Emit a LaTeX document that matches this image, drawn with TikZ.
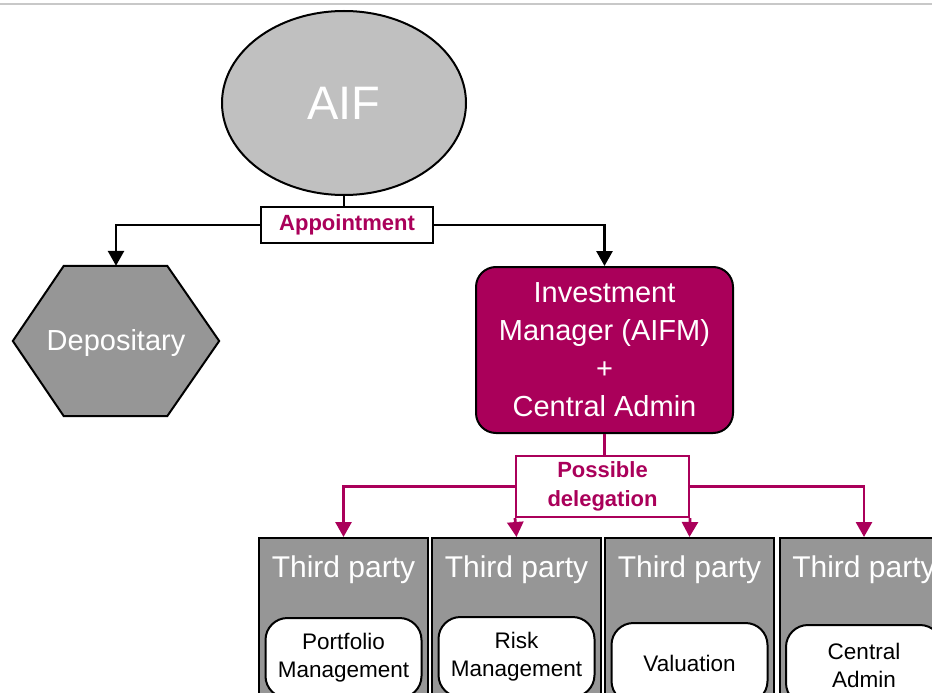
\documentclass[tikz,border=0pt]{standalone}
\usepackage{fontspec}
\setmainfont{Liberation Sans}
\usetikzlibrary{arrows.meta,calc,shapes.geometric}
\definecolor{berry}{HTML}{AA005A}
\definecolor{palegrey}{HTML}{C0C0C0}
\definecolor{midgrey}{HTML}{969696}
\definecolor{ruleline}{HTML}{C8C8C8}

\tikzset{
  link/.style={line width=2.8pt},
  tip/.style={-{Triangle[width=16pt,length=15pt]}},
  tag/.style={draw, line width=2pt, fill=white, inner sep=0pt, align=center,
    font=\bfseries\fontsize{22}{29}\selectfont},
  partybox/.style={draw, line width=2pt, fill=midgrey, anchor=north,
    minimum width=169pt, minimum height=200pt, inner sep=0pt},
  partytext/.style={text=white, font=\fontsize{30}{34}\selectfont, inner sep=0pt},
  taskbox/.style={draw, line width=2pt, fill=white, rounded corners=22pt,
    anchor=north, minimum width=156pt, minimum height=80pt, inner sep=0pt,
    align=center, font=\fontsize{22.5}{28}\selectfont},
}

\begin{document}
\begin{tikzpicture}[x=1pt,y=-1pt]
\useasboundingbox (0,0) rectangle (932,693);
\begin{scope}
\clip (0,0) rectangle (932,693);

% thin rule along the top edge
\draw[ruleline, line width=1.5pt] (0,4) -- (932,4);

% fund
\node[ellipse, draw, line width=2pt, fill=palegrey, minimum width=244pt,
  minimum height=184pt, inner sep=0pt, text=white,
  font=\fontsize{47}{50}\selectfont] (aif) at (344,103) {AIF};

% appointment label
\node[tag, text=berry, minimum width=172pt, minimum height=36pt] (appt) at (347,225) {Appointment};

% depositary (flattened hexagon)
\node[minimum width=206pt, minimum height=150pt, inner sep=0pt] (dep) at (116,341) {};
\draw[line width=2pt, fill=midgrey]
  (dep.west) -- ($(dep.north west)+(51,0)$) -- ($(dep.north east)+(-52,0)$)
  -- (dep.east) -- ($(dep.south east)+(-52,0)$) -- ($(dep.south west)+(51,0)$) -- cycle;
\node[text=white, font=\fontsize{29}{34}\selectfont] at ($(dep)+(0,2)$) {Depositary};

% investment manager
\node[draw, line width=2pt, fill=berry, rounded corners=20pt, text=white,
  minimum width=257pt, minimum height=166pt, inner sep=0pt, align=center,
  font=\fontsize{29}{38}\selectfont] (im) at (604.5,350)
  {Investment\\Manager (AIFM)\\+\\Central Admin};

% delegation label
\node[tag, draw=berry, text=berry, minimum width=173pt, minimum height=61pt] (deleg) at (602.5,486.5) {Possible\\delegation};

% third parties
\foreach \i/\cx/\top/\task in {1/343.5/617/{Portfolio\\Management},
                                2/516.5/616/{Risk\\Management},
                                3/689.5/622/{Valuation},
                                4/864/624/{Central\\Admin}} {
  \node[partybox] (tp\i) at (\cx,537) {};
  \node[partytext] (tp\i t) at (\cx,570) {Third party};
  \node[taskbox] (task\i) at (\cx,\top) {\task};
}

% connectors
\draw[link] (aif.south) -- (aif.south |- appt.north);
\draw[link, tip] (appt.west) -| (dep.north);
\draw[link, tip] (appt.east) -| (im.north);

\draw[link, berry] (im.south) -- (im.south |- deleg.north);
\draw[link, berry, tip] (deleg.west) -| (tp1.north);
\draw[link, berry, tip] (deleg.south west) -- (tp2.north);
\draw[link, berry, tip] (deleg.south east) -- (tp3.north);
\draw[link, berry, tip] (deleg.east) -| (tp4.north);
\end{scope}
\end{tikzpicture}
\end{document}
